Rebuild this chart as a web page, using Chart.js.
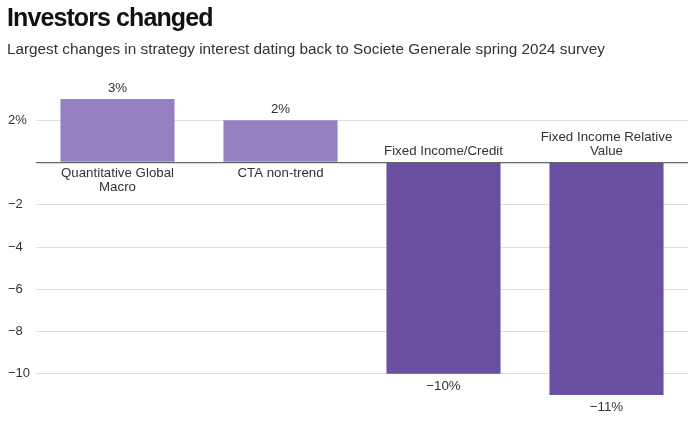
<!DOCTYPE html>
<html>
<head>
<meta charset="utf-8">
<script src="https://cdn.jsdelivr.net/npm/chart.js@4"></script>
<style>
  body { margin: 0; background: #fff; font-family: "Liberation Sans", Arial, sans-serif; }
  #wrap { position: relative; width: 700px; height: 429px; }
  #title { position: absolute; left: 7px; top: 3px; font-size: 25px; font-weight: bold; color: #111; letter-spacing: -0.9px; }
  #sub { position: absolute; left: 7px; top: 40px; font-size: 15.3px; color: #333; }
  canvas { position: absolute; left: 0; top: 0; }
</style>
</head>
<body>
<div id="wrap">
  <canvas id="myChart" width="700" height="429"></canvas>
  <div id="title">Investors changed</div>
  <div id="sub">Largest changes in strategy interest dating back to Societe Generale spring 2024 survey</div>
</div>
<script>
// chart data
const categories = [['Quantitative Global', 'Macro'], ['CTA non-trend'], ['Fixed Income/Credit'], ['Fixed Income Relative', 'Value']]
const values = [3, 2, -10, -11]
const valueLabels = ['3%', '2%', '\u221210%', '\u221211%']
const tickValues = [-10, -8, -6, -4, -2, 0, 2]

const barColors = values.map(v => v > 0 ? '#9581c1' : '#6a4fa3')

// draws the value labels and the category names next to the zero line
const labelPlugin = {
  id: 'labels',
  afterDatasetsDraw(chart) {
    const ctx = chart.ctx
    const meta = chart.getDatasetMeta(0)
    const y = chart.scales.y
    const zero = y.getPixelForValue(0)
    ctx.save()
    ctx.font = '13.3px "Liberation Sans", Arial, sans-serif'
    ctx.fillStyle = '#333'
    ctx.textAlign = 'center'
    meta.data.forEach((bar, i) => {
      const v = values[i]
      if (v > 0) {
        ctx.textBaseline = 'bottom'
        ctx.fillText(valueLabels[i], bar.x, bar.y - 4)
        ctx.textBaseline = 'top'
        categories[i].forEach((line, j) => ctx.fillText(line, bar.x, zero + 4 + j * 14))
      } else {
        ctx.textBaseline = 'top'
        ctx.fillText(valueLabels[i], bar.x, bar.y + 6)
        ctx.textBaseline = 'bottom'
        const n = categories[i].length
        categories[i].forEach((line, j) => ctx.fillText(line, bar.x, zero - 4 - (n - 1 - j) * 14))
      }
    })
    ctx.restore()
  }
}

new Chart('myChart', {
  type: 'bar',
  data: {
    labels: categories.map(c => c.join(' ')),
    datasets: [{
      backgroundColor: barColors,
      data: values,
      categoryPercentage: 1,
      barPercentage: 0.7
    }]
  },
  options: {
    responsive: false,
    animation: false,
    layout: { padding: { left: 8, right: 12, top: 99, bottom: 34 } },
    plugins: {
      legend: { display: false },
      title: { display: false },
      tooltip: { enabled: false }
    },
    scales: {
      x: { display: false },
      y: {
        min: -11,
        max: 3,
        afterBuildTicks: scale => { scale.ticks = tickValues.map(v => ({ value: v })) },
        afterFit: scale => { scale.width = 28 },
        border: { display: false },
        grid: {
          color: ctx => ctx.tick && ctx.tick.value === 0 ? '#666' : '#dedede',
          lineWidth: ctx => ctx.tick && ctx.tick.value === 0 ? 1.3 : 1,
          drawTicks: false,
          z: 0
        },
        ticks: {
          crossAlign: 'far',
          padding: 4,
          color: '#333',
          font: { family: '"Liberation Sans", Arial, sans-serif', size: 13 },
          callback: v => v === 0 ? '' : (v > 0 ? v + '%' : '\u2212' + Math.abs(v))
        }
      }
    }
  },
  plugins: [labelPlugin]
})
</script>
</body>
</html>
